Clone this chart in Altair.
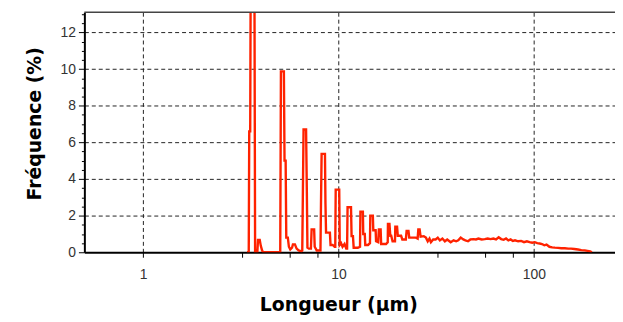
import altair as alt
import pandas as pd

# Longueur (µm) and Fréquence (%)
length_um = [
    3.40, 3.47, 3.49, 3.53, 3.55, 3.71, 3.74, 3.84, 3.87, 3.95, 4.00, 4.06, 4.11,
    5.03, 5.07, 5.25, 5.29, 5.36, 5.40, 5.50, 5.57, 5.66, 5.78, 5.84, 5.98, 6.10, 6.25, 6.45,
    6.52, 6.57, 6.62, 6.82, 6.88, 6.93, 7.05, 7.22, 7.28, 7.50, 7.55, 7.73, 7.95,
    8.08, 8.13, 8.19, 8.52, 8.57, 8.63, 9.03, 9.10, 9.33, 9.55,
    9.62, 9.67, 10.08, 10.14, 10.30, 10.48, 10.73, 10.95,
    11.06, 11.12, 11.58, 11.66, 11.85, 11.95, 12.55,
    12.88, 12.94, 13.32, 13.38, 13.62, 13.70, 14.15,
    14.48, 14.54, 14.98, 15.06, 15.48, 15.56, 15.95,
    16.08, 16.42, 16.52, 17.50, 17.85, 17.90, 18.22, 18.40, 18.60, 18.90,
    19.45, 19.52, 19.93, 20.10, 20.90, 21.20, 22.10, 22.30, 22.80, 23.00, 24.90,
    25.40, 25.60, 26.00, 26.30, 27.3, 28.0, 28.6, 29.2, 29.7, 30.5, 31.4,
    32.2, 33.0, 34.0, 35.0, 36.0, 37.5, 38.8, 40.0, 41.0, 42.2, 43.5, 44.6,
    46.0, 47.3, 49.0, 50.5, 52.0, 54.0, 56.0, 58.0, 60.0, 62.0, 64.0, 66.0,
    68.0, 70.0, 72.0, 74.0, 76.0, 78.0, 80.0, 83.0, 86.0, 89.0, 92.0, 95.0,
    98.0, 101.0, 104.0, 107.0, 110.0, 113.0, 116.0, 120.0, 124.0, 128.0,
    133.0, 138.0, 144.0, 150.0, 155.0, 161.0, 168.0, 175.0, 182.0, 188.0, 194.0, 198.0,
]
freq_pct = [
    0, 0, 6.6, 6.6, 15, 15, 0, 0, 0.67, 0.67, 0.35, 0.1, 0,
    0, 9.87, 9.87, 5.0, 5.0, 0.8, 0.8, 0.3, 0.15, 0.25, 0.43, 0.43, 0.2, 0.1, 0.05,
    0.1, 3.4, 6.7, 6.7, 3.4, 0.25, 0.2, 0.2, 1.25, 1.25, 0.3, 0.1, 0.1,
    0.1, 2.66, 5.37, 5.37, 2.66, 1.07, 1.07, 0.4, 0.4, 0.3,
    0.3, 3.42, 3.42, 0.4, 0.5, 0.3, 0.45, 0.2,
    0.2, 2.46, 2.46, 0.88, 0.88, 0.25, 0.25,
    0.3, 2.22, 2.22, 1.0, 1.0, 0.4, 0.4,
    0.5, 2.0, 2.0, 1.2, 1.2, 0.6, 0.55,
    1.25, 1.25, 0.45, 0.45, 0.55, 1.55, 1.55, 0.9, 0.9, 0.6,
    0.6, 1.39, 1.39, 0.9, 0.9, 0.7, 0.7, 1.16, 1.16, 0.8, 0.8,
    0.75, 1.25, 1.25, 0.85, 0.88, 0.8, 0.6, 0.75, 0.55, 0.7, 0.7,
    0.8, 0.65, 0.75, 0.6, 0.7, 0.55, 0.65, 0.6, 0.65, 0.8, 0.7, 0.65,
    0.6, 0.7, 0.72, 0.7, 0.75, 0.7, 0.72, 0.75, 0.72, 0.75, 0.7, 0.82,
    0.72, 0.68, 0.75, 0.65, 0.7, 0.62, 0.65, 0.6, 0.62, 0.55, 0.6, 0.55,
    0.52, 0.55, 0.5, 0.48, 0.45, 0.38, 0.42, 0.3, 0.27, 0.25,
    0.24, 0.22, 0.22, 0.2, 0.2, 0.18, 0.15, 0.12, 0.1, 0.08, 0.05, 0,
]

x_tick_values = [1, 3.2, 5.6, 7.8, 10, 32, 56, 78, 100]
y_tick_values = [0, 0.5, 1, 1.5, 2, 2.5, 3, 3.5, 4, 4.5, 5, 5.5, 6, 6.5, 7, 7.5,
                 8, 8.5, 9, 9.5, 10, 10.5, 11, 11.5, 12, 12.5, 13]

df = pd.DataFrame({"length": length_um, "freq": freq_pct, "idx": list(range(len(length_um)))})

is_decade = "datum.value == 1 || datum.value == 10 || datum.value == 100"
is_even = "datum.value % 2 == 0"

line = alt.Chart(df).mark_line(color="#ff2200", strokeWidth=2.4, clip=True).encode(
    x=alt.X(
        "length:Q",
        scale=alt.Scale(type="log", domain=[0.5, 260], nice=False),
        axis=alt.Axis(
            values=x_tick_values,
            labelExpr=f"({is_decade}) ? format(datum.value, 'd') : ''",
            gridOpacity={"condition": {"test": is_decade, "value": 1}, "value": 0},
            tickSize=5,
            labelPadding=10,
            title="Longueur (µm)",
            titleX=256,
            titleY=59,
            titleBaseline="alphabetic",
            titleAnchor="middle",
        ),
    ),
    y=alt.Y(
        "freq:Q",
        scale=alt.Scale(domain=[0, 13.1], nice=False),
        axis=alt.Axis(
            values=y_tick_values,
            labelExpr=f"({is_even}) ? format(datum.value, 'd') : ''",
            gridOpacity={"condition": {"test": f"({is_even}) && datum.value > 0", "value": 1}, "value": 0},
            tickSize={"condition": {"test": is_even, "value": 6}, "value": 3},
            labelPadding=3,
            title="Fréquence (%)",
            titleX=-44,
            titleY=112,
            titleBaseline="alphabetic",
            titleAnchor="middle",
        ),
    ),
    order="idx:Q",
)

top_border = alt.Chart(pd.DataFrame({"a": [0]})).mark_rule(
    color="#444444", strokeWidth=1.5
).encode(x=alt.value(0), x2=alt.value(535), y=alt.value(0))

chart = alt.layer(line, top_border).properties(
    width=535,
    height=242,
    autosize=alt.AutoSizeParams(type="none"),
    padding={"left": 77, "top": 3, "right": 0, "bottom": 66},
).configure_view(stroke=None).configure_axis(
    labelFont="Liberation Sans",
    labelFontSize=14,
    labelColor="#333333",
    titleFont="DejaVu Sans",
    titleFontSize=19,
    titleFontWeight="bold",
    titleColor="#000000",
    domainColor="#000000",
    domainWidth=2,
    tickColor="#000000",
    gridColor="#222222",
    gridDash=[4, 3],
    gridWidth=1,
)

chart.save("out.html", embed_options={"renderer": "svg", "actions": False})
